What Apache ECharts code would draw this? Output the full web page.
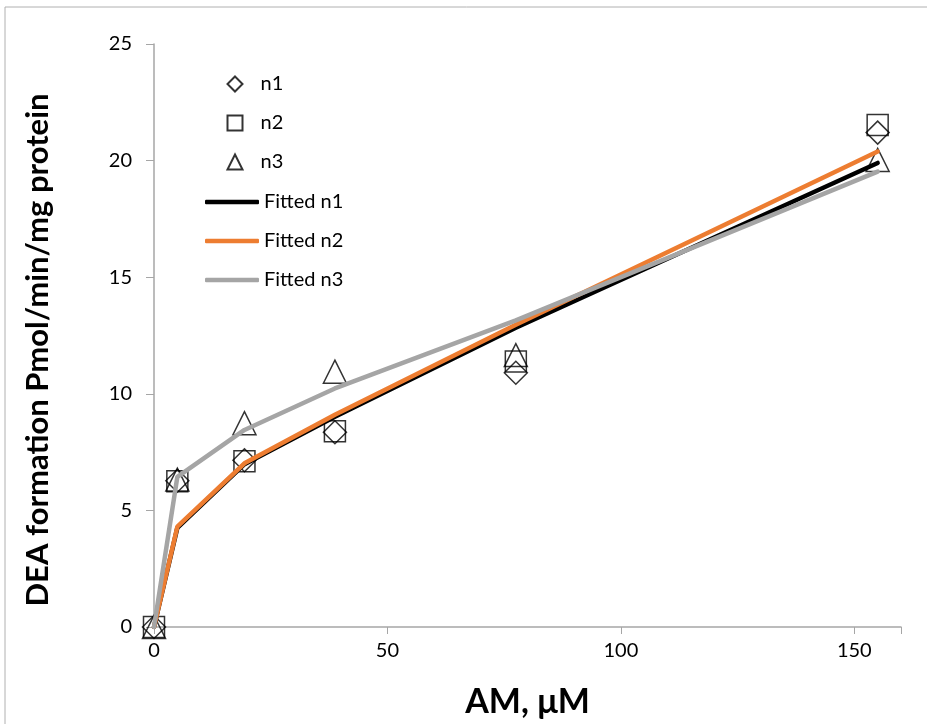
<!DOCTYPE html>
<html>
<head>
  <meta charset="utf-8">
  <script src="https://cdn.jsdelivr.net/npm/echarts@6/dist/echarts.min.js"></script>
  <style>
    html, body { margin: 0; padding: 0; background: #fff; }
    #main { width: 927px; height: 724px; }
  </style>
</head>
<body>
  <div id="main"></div>
  <script type="text/javascript">
    // AM concentration (uM)
    var amConc = [0, 5, 19.375, 38.75, 77.5, 155];

    // measured points
    var n1 = [0, 6.27, 7.15, 8.35, 10.9, 21.2];
    var n2 = [0, 6.25, 7.11, 8.39, 11.38, 21.53];
    var n3 = [0, 6.32, 8.74, 10.95, 11.66, 20.03];

    // fitted curves
    var fitN1 = [0, 4.25, 6.98, 9.02, 12.83, 19.9];
    var fitN2 = [0, 4.3, 7.02, 9.1, 12.96, 20.39];
    var fitN3 = [0, 6.44, 8.45, 10.23, 13.15, 19.53];

    var xTicks = [0, 50, 100, 150];
    var yTicks = [0, 5, 10, 15, 20, 25];

    var pointNames = ['n1', 'n2', 'n3'];
    var fitNames = ['Fitted n1', 'Fitted n2', 'Fitted n3'];
    var fitColors = ['#000000', '#ed7d31', '#a5a5a5'];

    function pairs(ys) {
      return amConc.map(function (x, i) { return [x, ys[i]]; });
    }

    var font = 'Lato';
    var markerStyle = { color: 'none', borderColor: '#000', borderWidth: 1.5 };

    function scatter(name, symbol, ys) {
      return {
        name: name,
        type: 'scatter',
        symbol: symbol,
        symbolSize: symbol === 'rect' ? 21 : 23,
        symbolKeepAspect: true,
        itemStyle: markerStyle,
        data: pairs(ys),
        z: 2
      };
    }

    function fitted(name, color, ys) {
      return {
        name: name,
        type: 'line',
        symbol: 'none',
        showSymbol: false,
        lineStyle: { color: color, width: 4.5, cap: 'round' },
        itemStyle: { color: color },
        data: pairs(ys),
        z: 3
      };
    }

    // one legend per row so rows line up like the original
    var legends = [];
    pointNames.forEach(function (nm, i) {
      legends.push({
        data: [nm],
        left: 220,
        top: 69 + i * 39,
        itemWidth: 15,
        itemHeight: 15,
        textStyle: { fontFamily: font, fontSize: 20, color: '#000', padding: [0, 0, 0, 13] }
      });
    });
    fitNames.forEach(function (nm, i) {
      legends.push({
        data: [{ name: nm, icon: 'roundRect' }],
        left: 200,
        top: 187 + i * 39,
        itemWidth: 54,
        itemHeight: 4.5,
        textStyle: { fontFamily: font, fontSize: 20, color: '#000' }
      });
    });

    var myChart = echarts.init(document.getElementById('main'));
    var option = {
      animation: false,
      textStyle: { fontFamily: font },
      grid: { left: 154, top: 44, right: 26, bottom: 97 },
      legend: legends,
      xAxis: {
        type: 'value',
        min: 0,
        max: 160,
        interval: 50,
        name: 'AM, μM',
        nameLocation: 'middle',
        nameGap: 58,
        nameTextStyle: { fontFamily: font, fontSize: 34, fontWeight: 'bold', color: '#000' },
        axisLine: { lineStyle: { color: '#a6a6a6', width: 1.5 } },
        axisTick: { inside: false, length: 7, lineStyle: { color: '#a6a6a6' } },
        axisLabel: {
          fontSize: 20, color: '#000', margin: 14,
          formatter: function (v) { return xTicks.indexOf(v) >= 0 ? v : ''; }
        },
        splitLine: { show: false }
      },
      yAxis: {
        type: 'value',
        min: 0,
        max: 25,
        interval: 5,
        axisLine: { show: true, lineStyle: { color: '#a6a6a6', width: 1.5 } },
        axisTick: { show: true, inside: false, length: 8, lineStyle: { color: '#a6a6a6' } },
        axisLabel: {
          fontSize: 20, color: '#000', margin: 22,
          formatter: function (v) { return yTicks.indexOf(v) >= 0 ? v : ''; }
        },
        splitLine: { show: false }
      },
      graphic: [
        {
          type: 'rect',
          shape: { x: 5, y: 7, width: 1000, height: 1000 },
          style: { fill: 'none', stroke: '#b0b0b0', lineWidth: 1 },
          silent: true
        },
        {
          type: 'text',
          x: 38,
          y: 350,
          rotation: Math.PI / 2,
          style: {
            text: 'DEA formation Pmol/min/mg protein',
            fontFamily: font,
            fontSize: 31,
            fontWeight: 'bold',
            fill: '#000',
            align: 'center',
            verticalAlign: 'middle'
          }
        }
      ],
      series: [
        scatter('n1', 'diamond', n1),
        scatter('n2', 'rect', n2),
        scatter('n3', 'triangle', n3),
        fitted(fitNames[0], fitColors[0], fitN1),
        fitted(fitNames[1], fitColors[1], fitN2),
        fitted(fitNames[2], fitColors[2], fitN3)
      ]
    };
    myChart.setOption(option);
  </script>
</body>
</html>
